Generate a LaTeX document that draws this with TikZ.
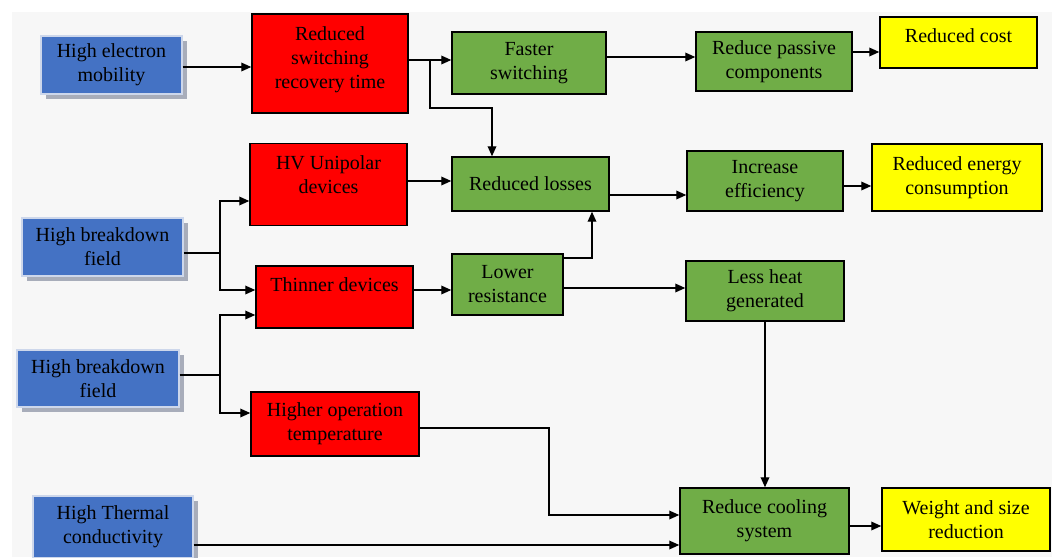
\documentclass[tikz,border=0pt]{standalone}
\usepackage{fontspec}
\setmainfont{Liberation Serif}
\newfontfamily\flowfont{Liberation Serif}
\usepackage{xcolor}
\usetikzlibrary{arrows.meta,shadows}

\definecolor{propblue}{RGB}{68,114,196}
\definecolor{propedge}{RGB}{205,215,235}
\definecolor{effred}{RGB}{255,0,0}
\definecolor{gainfill}{RGB}{112,173,71}
\definecolor{endyellow}{RGB}{255,255,0}
\definecolor{panelgray}{RGB}{247,247,247}
\definecolor{shadegray}{RGB}{168,173,186}

\begin{document}
\begin{tikzpicture}[x=0.75pt,y=0.75pt,yscale=-1,xscale=1,
  sz/.style 2 args={minimum width=#1*0.75pt, minimum height=#2*0.75pt},
  box/.style={rectangle, align=center, inner sep=0.75pt, font=\flowfont\fontsize{15}{18}\selectfont},
  prop/.style={box, fill=propblue, draw=propedge, line width=1pt,
    drop shadow={shadow xshift=3.5pt, shadow yshift=-3.5pt, fill=shadegray, opacity=1}},
  effect/.style={box, fill=effred, draw=black, line width=1.1pt},
  gain/.style={box, fill=gainfill, draw=black, line width=1.1pt},
  result/.style={box, fill=endyellow, draw=black, line width=1.1pt},
  conn/.style={-{Triangle[length=7.5pt,width=6.5pt]}, line width=1pt},
  wire/.style={line width=1pt}]
\useasboundingbox (0,0) rectangle (1052,557);
%Shape: Rectangle, panel
\fill [panelgray] (12,12) rectangle (1052,557);

%Material properties
\node (mob) at (111.5,65) [prop, sz={141}{58}] {High electron\\mobility};
\node (hbf1) at (102.5,247) [prop, sz={161}{58}] {High breakdown\\field};
\node (hbf2) at (98,378.5) [prop, sz={162}{57}] {High breakdown\\field};
\node (therm) at (113,527) [prop, sz={160}{62}] {High Thermal\\conductivity};

%Device effects
\node (rsr) at (330,63.5) [effect, sz={156}{99}, text depth=9.3pt] {Reduced\\switching\\recovery time};
\node (hv) at (328.5,184.5) [effect, sz={157}{82}, text depth=15.3pt] {HV Unipolar\\devices};
\node (thin) at (334.5,297) [effect, sz={157}{62}, text height=10pt, text depth=19pt] {Thinner devices};
\node (hot) at (335,424) [effect, sz={168}{64}] {Higher operation\\temperature};

%System gains
\node (fast) at (529,63) [gain, sz={154}{62}] {Faster\\switching};
\node (losses) at (530.5,184) [gain, sz={157}{54}] {Reduced losses};
\node (lowres) at (507.5,284.5) [gain, sz={111}{61}] {Lower\\resistance};
\node (passive) at (774,61.5) [gain, sz={156}{59}] {Reduce passive\\components};
\node (eff) at (765,181) [gain, sz={156}{60}] {Increase\\efficiency};
\node (heat) at (765,291) [gain, sz={158}{60}] {Less heat\\generated};
\node (cool) at (764.5,521) [gain, sz={169}{66}] {Reduce cooling\\system};

%Outcomes
\node (cost) at (958.5,42.5) [result, sz={157}{51}, text height=10pt, text depth=10.5pt] {Reduced cost};
\node (energy) at (957,177.5) [result, sz={170}{67}] {Reduced energy\\consumption};
\node (weight) at (966,519.5) [result, sz={168}{63}] {Weight and size\\reduction};

%Bend points
\coordinate (sw) at (430,60);
\coordinate (swl) at (492,108);
\coordinate (lr) at (592,258);
\coordinate (f1) at (220,253);
\coordinate (f2) at (220,375);
\coordinate (ht) at (549,428);

%Connectors
\draw [conn] (mob.east |- 0,67) -- (rsr.west |- 0,67);
\draw [conn] (rsr.east |- sw) -- (fast.west |- sw);
\draw [conn] (sw) |- (swl) -- (swl |- losses.north);
\draw [conn] (fast.east |- 0,57) -- (passive.west |- 0,57);
\draw [conn] (passive.east |- 0,52) -- (cost.west |- 0,52);
\draw [conn] (hv.east |- 0,181) -- (losses.west |- 0,181);
\draw [conn] (losses.east |- 0,195) -- (eff.west |- 0,195);
\draw [conn] (eff.east |- 0,186) -- (energy.west |- 0,186);
\draw [conn] (lowres.east |- lr) -| (lr |- losses.south);
\draw [conn] (lowres.east |- 0,288) -- (heat.west |- 0,288);
\draw [wire] (hbf1.east |- f1) -- (f1);
\draw [conn] (f1) |- (hv.west |- 0,201);
\draw [conn] (f1) |- (thin.west |- 0,290);
\draw [wire] (hbf2.east |- f2) -- (f2);
\draw [conn] (f2) |- (thin.west |- 0,315);
\draw [conn] (f2) |- (hot.west |- 0,413);
\draw [conn] (thin.east |- 0,290) -- (lowres.west |- 0,290);
\draw [conn] (hot.east |- ht) -- (ht) |- (cool.west |- 0,515);
\draw [conn] (heat.south) -- (heat.south |- cool.north);
\draw [conn] (therm.east |- 0,545) -- (cool.west |- 0,545);
\draw [conn] (cool.east |- 0,526) -- (weight.west |- 0,526);
\end{tikzpicture}
\end{document}
